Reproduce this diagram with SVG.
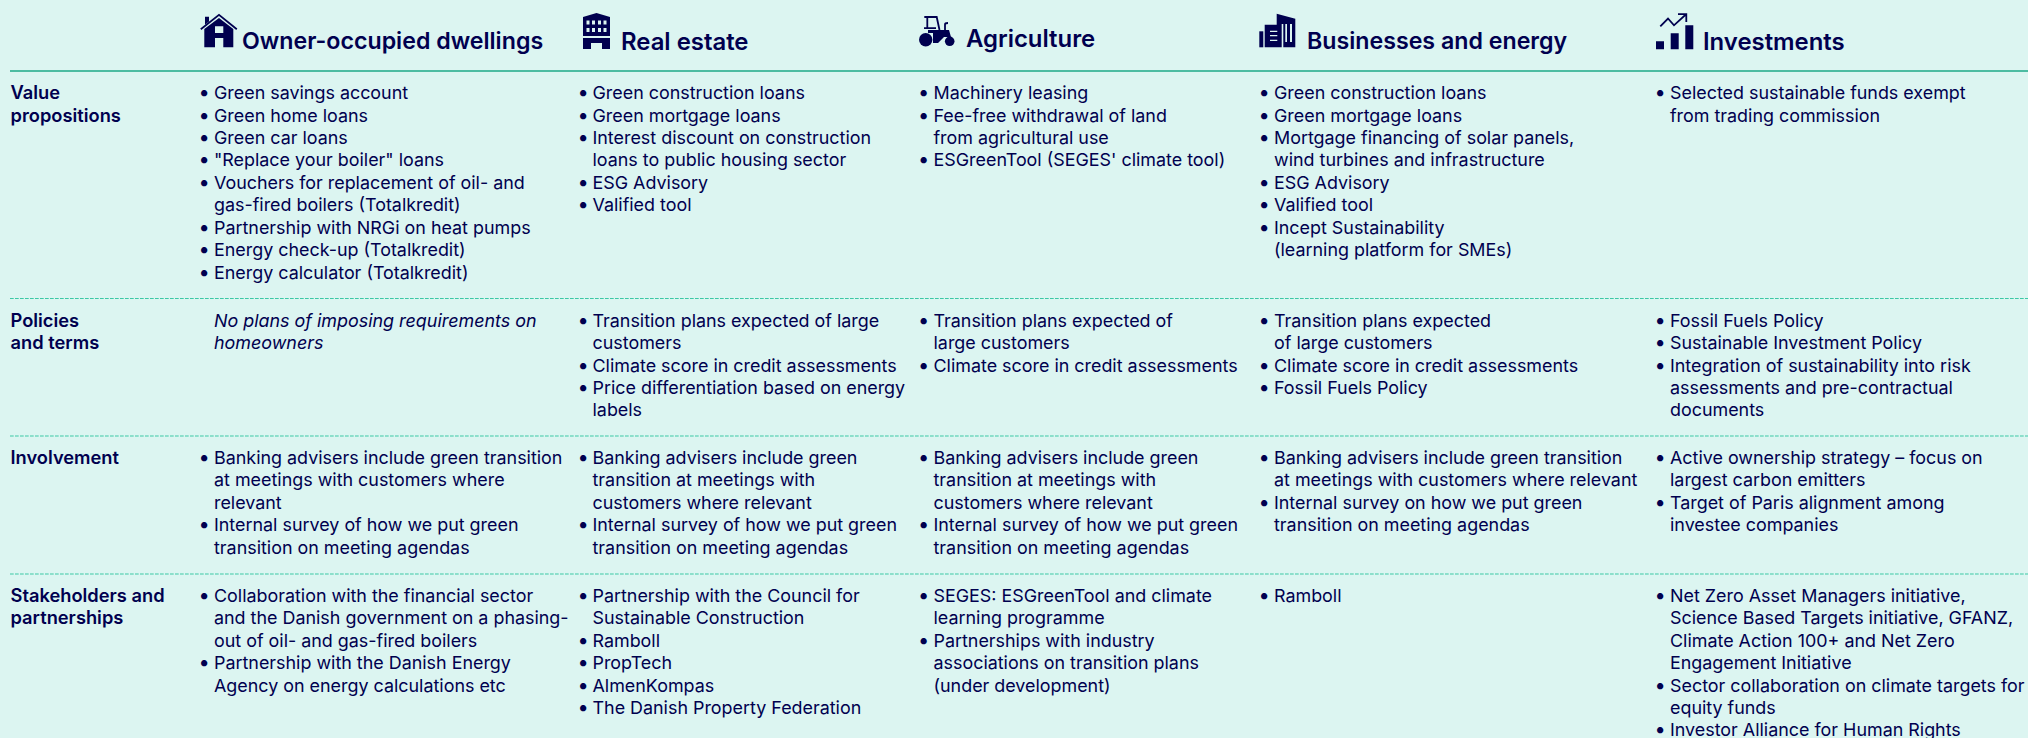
<svg xmlns="http://www.w3.org/2000/svg" width="2028" height="738" viewBox="0 0 2028 738">
<style>
text{font-family:Inter,"Noto Sans","Liberation Sans",sans-serif;font-size:17.9px;fill:#00004f}
.h{font-size:23.2px;font-weight:600}
.h2{font-size:23.9px}
.l{font-weight:600;font-size:18.3px}
.i{font-style:italic}
.b{font-size:20px}
.rule{stroke:#4dbca2;stroke-width:2}
.dash{stroke:#3cc9a5;stroke-width:1.200;stroke-dasharray:3.700 1.300}
.ic{fill:#00004f}
.ln{fill:none;stroke:#00004f;stroke-width:1.800}
</style>
<rect width="2028" height="738" fill="#dcf5f1"/>
<g id="connectors">
<line class="rule" x1="10" y1="71" x2="2028" y2="71"/>
<line class="dash" x1="10" y1="298.500" x2="2028" y2="298.500"/>
<line class="dash" x1="10" y1="436" x2="2028" y2="436"/>
<line class="dash" x1="10" y1="574" x2="2028" y2="574"/>
</g>
<g id="header-owner">
<path class="ln" d="M200.800 29.200L219 14.800L236.800 29.200"/>
<path class="ic" d="M205 16.700H209V21.500L205 24.800Z"/>
<path class="ic" fill-rule="evenodd" d="M204.300 29L219 18L233.300 29V47.300H223.300V38H215V47.300H204.300Z M215 26.300V33H223.300V26.300Z"/>
<text class="h" x="242" y="49">Owner-occupied dwellings</text>
</g>
<g id="header-real-estate">
<path class="ic" fill-rule="evenodd" d="M583 17L596.500 13L610 17V36H583Z M586.500 20.500V24.500H589.500V20.500Z M592 20.500V24.500H595V20.500Z M598 20.500V24.500H601V20.500Z M603.500 20.500V24.500H606.500V20.500Z M586.500 28V32H589.500V28Z M592 28V32H595V28Z M598 28V32H601V28Z M603.500 28V32H606.500V28Z"/>
<path class="ic" d="M583 38H610V49H602V43H591V49H583Z"/>
<text class="h h2" x="621" y="49.500">Real estate</text>
</g>
<g id="header-agriculture">
<circle class="ic" cx="925.700" cy="39.700" r="6.700"/>
<circle class="ic" cx="949.700" cy="41.300" r="4.800"/>
<path class="ic" d="M928 30H949L951 37H944L938 43H933V33H928Z"/>
<path class="ln" d="M924.300 17H936.700L939.500 30M927.300 17V29M924 28.200H936M945 30V24.500Q945 23 948 23"/>
<text class="h h2" x="966" y="46.500">Agriculture</text>
</g>
<g id="header-businesses">
<path class="ic" d="M1259.300 31.300H1263.300V47.300H1259.300Z"/>
<path class="ic" fill-rule="evenodd" d="M1264.700 24.700H1276.700V13.700L1295.300 18.700V47.300H1283.300V24H1281.700V47.300H1264.700Z M1270 30.700V32H1277.300V30.700Z M1270 35V36.300H1277.300V35Z M1270 39.700V41H1277.300V39.700Z M1285.300 24V42H1287V24Z M1290 24V42H1292V24Z"/>
<text class="h" x="1307" y="48.500">Businesses and energy</text>
</g>
<g id="header-investments">
<path class="ic" d="M1656 41.300H1664V49.300H1656Z M1670.700 33.300H1678.700V49.300H1670.700Z M1685.300 25.300H1693.300V49.300H1685.300Z"/>
<path class="ln" d="M1660.300 26.300L1668 18.500L1674 25.300L1685.800 14.500M1678 14.200H1686.300V22"/>
<text class="h h2" x="1703" y="49.500">Investments</text>
</g>
<g id="row-labels" transform="translate(0 .3)">
<text class="l" x="10.500" y="99">Value</text>
<text class="l" x="10.500" y="122">propositions</text>
<text class="l" x="10.500" y="327">Policies</text>
<text class="l" x="10.500" y="349">and terms</text>
<text class="l" x="10.500" y="464">Involvement</text>
<text class="l" x="10.500" y="602">Stakeholders and</text>
<text class="l" x="10.500" y="624">partnerships</text>
</g>
<g id="col-owner" transform="translate(0 .3)">
<text class="b" x="198.500" y="99">•</text><text x="214" y="99">Green savings account</text>
<text class="b" x="198.500" y="122">•</text><text x="214" y="122">Green home loans</text>
<text class="b" x="198.500" y="144">•</text><text x="214" y="144">Green car loans</text>
<text class="b" x="198.500" y="166">•</text><text x="214" y="166">"Replace your boiler" loans</text>
<text class="b" x="198.500" y="189">•</text><text x="214" y="189">Vouchers for replacement of oil- and</text>
<text x="214" y="211">gas-fired boilers (Totalkredit)</text>
<text class="b" x="198.500" y="234">•</text><text x="214" y="234">Partnership with NRGi on heat pumps</text>
<text class="b" x="198.500" y="256">•</text><text x="214" y="256">Energy check-up (Totalkredit)</text>
<text class="b" x="198.500" y="279">•</text><text x="214" y="279">Energy calculator (Totalkredit)</text>
<text class="i" x="214" y="327">No plans of imposing requirements on</text>
<text class="i" x="214" y="349">homeowners</text>
<text class="b" x="198.500" y="464">•</text><text x="214" y="464">Banking advisers include green transition</text>
<text x="214" y="486">at meetings with customers where</text>
<text x="214" y="509">relevant</text>
<text class="b" x="198.500" y="531">•</text><text x="214" y="531">Internal survey of how we put green</text>
<text x="214" y="554">transition on meeting agendas</text>
<text class="b" x="198.500" y="602">•</text><text x="214" y="602">Collaboration with the financial sector</text>
<text x="214" y="624">and the Danish government on a phasing-</text>
<text x="214" y="647">out of oil- and gas-fired boilers</text>
<text class="b" x="198.500" y="669">•</text><text x="214" y="669">Partnership with the Danish Energy</text>
<text x="214" y="692">Agency on energy calculations etc</text>
</g>
<g id="col-real-estate" transform="translate(0 .3)">
<text class="b" x="577.500" y="99">•</text><text x="592.500" y="99">Green construction loans</text>
<text class="b" x="577.500" y="122">•</text><text x="592.500" y="122">Green mortgage loans</text>
<text class="b" x="577.500" y="144">•</text><text x="592.500" y="144">Interest discount on construction</text>
<text x="592.500" y="166">loans to public housing sector</text>
<text class="b" x="577.500" y="189">•</text><text x="592.500" y="189">ESG Advisory</text>
<text class="b" x="577.500" y="211">•</text><text x="592.500" y="211">Valified tool</text>
<text class="b" x="577.500" y="327">•</text><text x="592.500" y="327">Transition plans expected of large</text>
<text x="592.500" y="349">customers</text>
<text class="b" x="577.500" y="372">•</text><text x="592.500" y="372">Climate score in credit assessments</text>
<text class="b" x="577.500" y="394">•</text><text x="592.500" y="394">Price differentiation based on energy</text>
<text x="592.500" y="416">labels</text>
<text class="b" x="577.500" y="464">•</text><text x="592.500" y="464">Banking advisers include green</text>
<text x="592.500" y="486">transition at meetings with</text>
<text x="592.500" y="509">customers where relevant</text>
<text class="b" x="577.500" y="531">•</text><text x="592.500" y="531">Internal survey of how we put green</text>
<text x="592.500" y="554">transition on meeting agendas</text>
<text class="b" x="577.500" y="602">•</text><text x="592.500" y="602">Partnership with the Council for</text>
<text x="592.500" y="624">Sustainable Construction</text>
<text class="b" x="577.500" y="647">•</text><text x="592.500" y="647">Ramboll</text>
<text class="b" x="577.500" y="669">•</text><text x="592.500" y="669">PropTech</text>
<text class="b" x="577.500" y="692">•</text><text x="592.500" y="692">AlmenKompas</text>
<text class="b" x="577.500" y="714">•</text><text x="592.500" y="714">The Danish Property Federation</text>
</g>
<g id="col-agriculture" transform="translate(-.5 .3)">
<text class="b" x="918.500" y="99">•</text><text x="934" y="99">Machinery leasing</text>
<text class="b" x="918.500" y="122">•</text><text x="934" y="122">Fee-free withdrawal of land</text>
<text x="934" y="144">from agricultural use</text>
<text class="b" x="918.500" y="166">•</text><text x="934" y="166">ESGreenTool (SEGES' climate tool)</text>
<text class="b" x="918.500" y="327">•</text><text x="934" y="327">Transition plans expected of</text>
<text x="934" y="349">large customers</text>
<text class="b" x="918.500" y="372">•</text><text x="934" y="372">Climate score in credit assessments</text>
<text class="b" x="918.500" y="464">•</text><text x="934" y="464">Banking advisers include green</text>
<text x="934" y="486">transition at meetings with</text>
<text x="934" y="509">customers where relevant</text>
<text class="b" x="918.500" y="531">•</text><text x="934" y="531">Internal survey of how we put green</text>
<text x="934" y="554">transition on meeting agendas</text>
<text class="b" x="918.500" y="602">•</text><text x="934" y="602">SEGES: ESGreenTool and climate</text>
<text x="934" y="624">learning programme</text>
<text class="b" x="918.500" y="647">•</text><text x="934" y="647">Partnerships with industry</text>
<text x="934" y="669">associations on transition plans</text>
<text x="934" y="692">(under development)</text>
</g>
<g id="col-businesses" transform="translate(0 .3)">
<text class="b" x="1258.500" y="99">•</text><text x="1274" y="99">Green construction loans</text>
<text class="b" x="1258.500" y="122">•</text><text x="1274" y="122">Green mortgage loans</text>
<text class="b" x="1258.500" y="144">•</text><text x="1274" y="144">Mortgage financing of solar panels,</text>
<text x="1274" y="166">wind turbines and infrastructure</text>
<text class="b" x="1258.500" y="189">•</text><text x="1274" y="189">ESG Advisory</text>
<text class="b" x="1258.500" y="211">•</text><text x="1274" y="211">Valified tool</text>
<text class="b" x="1258.500" y="234">•</text><text x="1274" y="234">Incept Sustainability</text>
<text x="1274" y="256">(learning platform for SMEs)</text>
<text class="b" x="1258.500" y="327">•</text><text x="1274" y="327">Transition plans expected</text>
<text x="1274" y="349">of large customers</text>
<text class="b" x="1258.500" y="372">•</text><text x="1274" y="372">Climate score in credit assessments</text>
<text class="b" x="1258.500" y="394">•</text><text x="1274" y="394">Fossil Fuels Policy</text>
<text class="b" x="1258.500" y="464">•</text><text x="1274" y="464">Banking advisers include green transition</text>
<text x="1274" y="486">at meetings with customers where relevant</text>
<text class="b" x="1258.500" y="509">•</text><text x="1274" y="509">Internal survey on how we put green</text>
<text x="1274" y="531">transition on meeting agendas</text>
<text class="b" x="1258.500" y="602">•</text><text x="1274" y="602">Ramboll</text>
</g>
<g id="col-investments" transform="translate(-1 .3)">
<text class="b" x="1655.500" y="99">•</text><text x="1671" y="99">Selected sustainable funds exempt</text>
<text x="1671" y="122">from trading commission</text>
<text class="b" x="1655.500" y="327">•</text><text x="1671" y="327">Fossil Fuels Policy</text>
<text class="b" x="1655.500" y="349">•</text><text x="1671" y="349">Sustainable Investment Policy</text>
<text class="b" x="1655.500" y="372">•</text><text x="1671" y="372">Integration of sustainability into risk</text>
<text x="1671" y="394">assessments and pre-contractual</text>
<text x="1671" y="416">documents</text>
<text class="b" x="1655.500" y="464">•</text><text x="1671" y="464">Active ownership strategy – focus on</text>
<text x="1671" y="486">largest carbon emitters</text>
<text class="b" x="1655.500" y="509">•</text><text x="1671" y="509">Target of Paris alignment among</text>
<text x="1671" y="531">investee companies</text>
<text class="b" x="1655.500" y="602">•</text><text x="1671" y="602">Net Zero Asset Managers initiative,</text>
<text x="1671" y="624">Science Based Targets initiative, GFANZ,</text>
<text x="1671" y="647">Climate Action 100+ and Net Zero</text>
<text x="1671" y="669">Engagement Initiative</text>
<text class="b" x="1655.500" y="692">•</text><text x="1671" y="692">Sector collaboration on climate targets for</text>
<text x="1671" y="714">equity funds</text>
<text class="b" x="1655.500" y="736">•</text><text x="1671" y="736">Investor Alliance for Human Rights</text>
</g>
</svg>
